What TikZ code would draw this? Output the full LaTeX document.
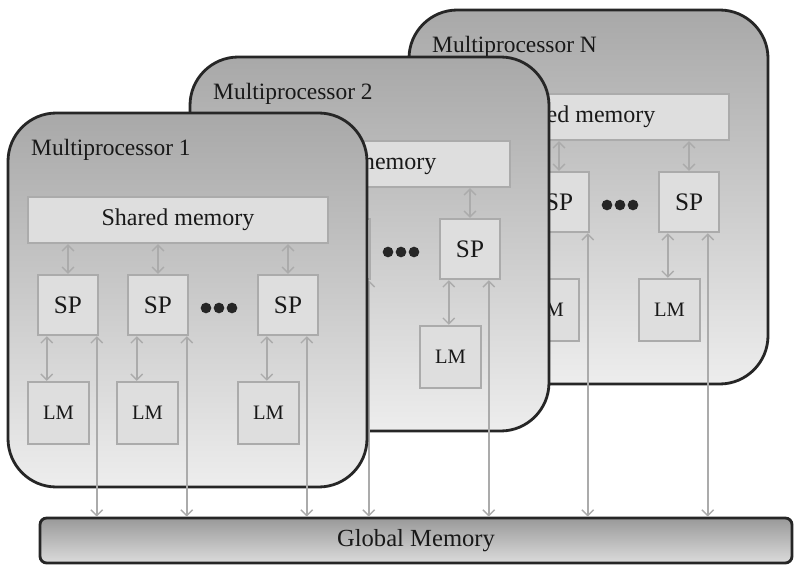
\documentclass[tikz,border=0pt]{standalone}
\usepackage{fontspec}
\setmainfont{Liberation Serif}
\usetikzlibrary{arrows.meta,calc}
\newcommand\mpunit[5]{%
\begin{scope}[shift={(#2,#3)}]
  \node[mpbox] (mp#1) at (187.5,300) {};
  \node[mplabel] (mpl#1) at (31,150) {#4};
  \node[smem] (sm#1) at (178,220) {Shared memory};
  \node[spbox] (spa#1) at (68,305) {SP};
  \node[spbox] (spb#1) at (158,305) {SP};
  \node[spbox] (spc#1) at (288,305) {SP};
  \node[dotn] (dta#1) at (206,308) {};
  \node[dotn] (dtb#1) at (219,308) {};
  \node[dotn] (dtc#1) at (232,308) {};
  \node[lmbox] (lma#1) at (58.5,413) {LM};
  \node[lmbox] (lmb#1) at (147.5,413) {LM};
  \node[lmbox] (lmc#1) at (268.5,413) {LM};
  \foreach \s in {a,b,c}{
    \draw[link] (sm#1.south -| sp\s#1.north) -- (sp\s#1.north);
    \coordinate (la\s#1) at ($(sp\s#1.south west)+(10,0)$);
    \draw[link] (la\s#1) -- (la\s#1 |- lm\s#1.north);
  }
  \foreach \s/\o in {#5}{
    \coordinate (ga\s#1) at ($(sp\s#1.south west)+(\o,0)$);
    \draw[link] (ga\s#1) -- (ga\s#1 |- gm.north);
  }
\end{scope}}
\begin{document}
\begin{tikzpicture}[x=0.03cm,y=-0.03cm,
  wh/.style 2 args={minimum width=#1*0.03cm, minimum height=#2*0.03cm},
  mpbox/.style={draw=black!85, line width=2.4pt, rounded corners=1.45cm,
    top color=black!34, bottom color=black!7, inner sep=0pt, wh={359}{374}},
  mplabel/.style={anchor=west, inner sep=0pt, text=black!90, font=\fontsize{20}{24}\selectfont},
  inner/.style={draw=black!33, line width=2pt, fill=black!13, inner sep=0pt, text=black!90},
  smem/.style={inner, wh={300}{46}, font=\fontsize{20.5}{24}\selectfont},
  spbox/.style={inner, wh={60}{60}, font=\fontsize{21.5}{24}\selectfont},
  lmbox/.style={inner, wh={61}{62}, font=\fontsize{17.5}{20}\selectfont},
  dotn/.style={circle, fill=black!85, inner sep=0pt, minimum size=0.32cm},
  link/.style={draw=black!33, line width=1.2pt,
    {Straight Barb[length=5pt,width=10pt]}-{Straight Barb[length=5pt,width=10pt]}},
  gmem/.style={draw=black!85, line width=2.4pt, rounded corners=0.2cm,
    top color=black!40, bottom color=black!14, inner sep=0pt, wh={752}{45},
    text=black!90, font=\fontsize{21}{24}\selectfont}
]
\useasboundingbox (0,0) rectangle (794,565);
\node[gmem] (gm) at (416,540.5) {Global Memory};
\mpunit{N}{401}{-103}{Multiprocessor N}{b/60,c/50}
\mpunit{2}{182}{-56}{Multiprocessor 2}{b/60,c/50}
\mpunit{1}{0}{0}{Multiprocessor 1}{a/60,b/60,c/50}
\end{tikzpicture}
\end{document}
